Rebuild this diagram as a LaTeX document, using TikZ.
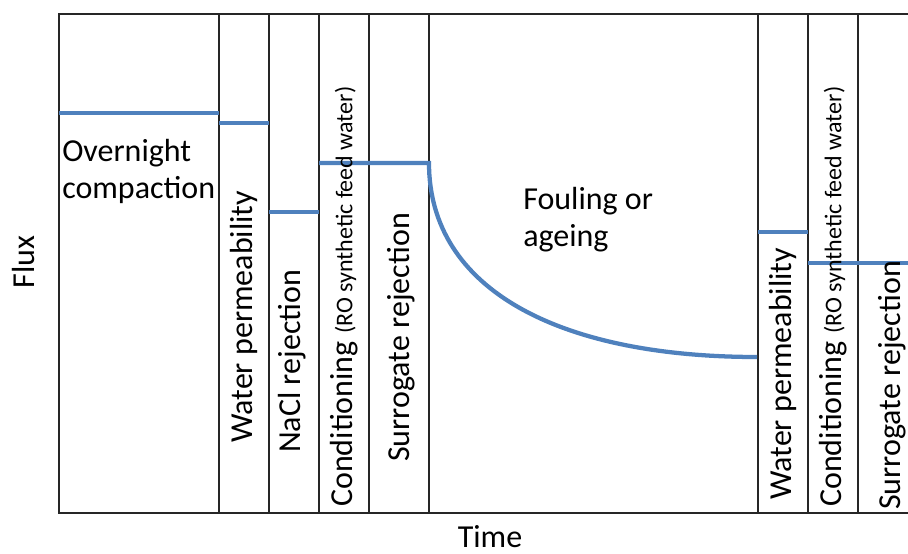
\documentclass[tikz,border=0pt]{standalone}
\usepackage{fontspec}
\setmainfont{Carlito}
\definecolor{fluxblue}{RGB}{79,129,189}
\begin{document}
\begin{tikzpicture}[x=0.75pt, y=-0.75pt,
  frame/.style={line width=1.1pt, black!85},
  flux/.style={line width=3.2pt, fluxblue},
  stage/.style={rotate=90, anchor=west, inner sep=0pt, font=\fontsize{24}{28}\selectfont},
  phase/.style={align=left, anchor=north west, inner sep=0pt, font=\fontsize{24}{28}\selectfont}]
\useasboundingbox (0,0) rectangle (908,554);
% axes
\draw[frame] (908,14) -- (59,14) -- (59,513) -- (908,513);
\foreach \x in {219,269,319,369,429,758,808,858}
  \draw[frame] (\x,14) -- (\x,513);
\node[rotate=90, font=\fontsize{24}{28}\selectfont] (flux) at (24,262) {Flux};
\node[anchor=base, inner sep=0pt, font=\fontsize{24}{28}\selectfont] (time) at (490,547) {Time};
% flux levels
\draw[flux] (59,113) -- (219,113);
\draw[flux] (219,123) -- (269,123);
\draw[flux] (269,212) -- (319,212);
\draw[flux] (319,163) -- (429,163) .. controls (429,290) and (560,357) .. (757,357);
\draw[flux] (758,232) -- (808,232);
\draw[flux] (808,263) -- (908,263);
% stages
\node[phase] (compact) at (62,139) {Overnight\\compaction};
\node[phase] (fouling) at (523,187) {Fouling or\\ageing};
\node[stage] (perm) at (244,443) {Water permeability};
\node[stage] (nacl) at (292,453) {NaCl rejection};
\node[stage] (cond) at (344,507) {Conditioning {\fontsize{18}{18}\selectfont(RO synthetic feed water)}};
\node[stage] (surr) at (401,462) {Surrogate rejection};
\node[stage] (perm2) at (783,500) {Water permeability};
\node[stage] (cond2) at (833,507) {Conditioning {\fontsize{18}{18}\selectfont(RO synthetic feed water)}};
\node[stage] (surr2) at (892,510) {Surrogate rejection};
\end{tikzpicture}
\end{document}
